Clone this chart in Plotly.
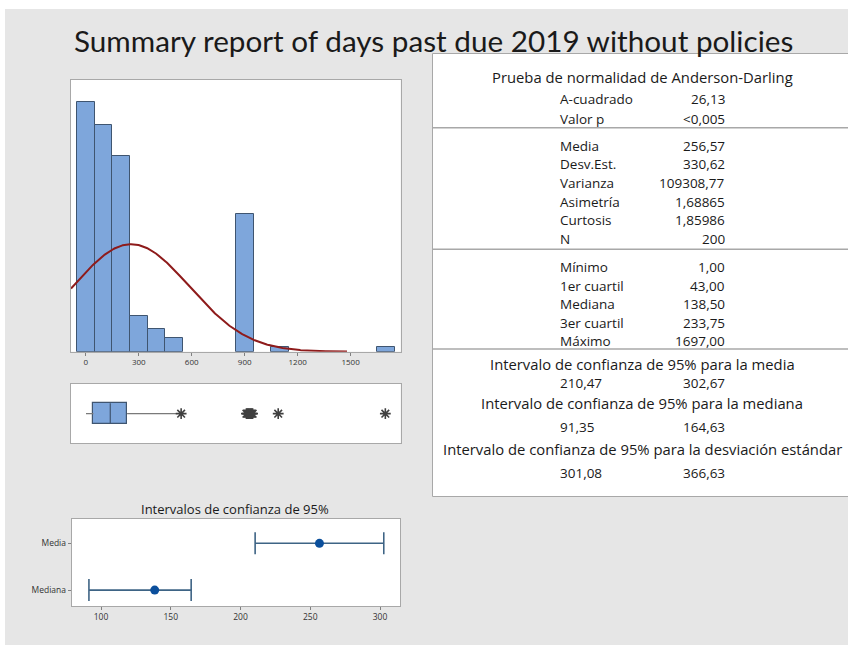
import numpy as np
import plotly.graph_objects as go

W, H = 848, 645
TITLE_FONT = "Lato"
FONT = "Open Sans"

# ---------------- data ----------------
bin_centers = [0, 100, 200, 300, 400, 500, 900, 1100, 1700]
bin_counts = [56, 51, 44, 8, 5, 3, 31, 1, 1]
bin_width = 100

n_obs = 200
mean_val = 256.57
sd_val = 330.62

q1_val = 43.00
median_val = 138.50
q3_val = 233.75
min_val = 1.00
whisker_hi = 515
outliers = [540, 910, 915, 920, 925, 930, 935, 940, 945, 1090, 1697]

ci_labels = ["Media", "Mediana"]
ci_centers = [256.57, 138.50]
ci_low = [210.47, 91.35]
ci_high = [302.67, 164.63]

hist_ticks = [0, 300, 600, 900, 1200, 1500]
ci_ticks = [100, 150, 200, 250, 300]

ad_rows = [("A-cuadrado", "26,13"), ("Valor p", "<0,005")]
moment_rows = [("Media", "256,57"), ("Desv.Est.", "330,62"), ("Varianza", "109308,77"),
               ("Asimetría", "1,68865"), ("Curtosis", "1,85986"), ("N", "200")]
quart_rows = [("Mínimo", "1,00"), ("1er cuartil", "43,00"), ("Mediana", "138,50"),
              ("3er cuartil", "233,75"), ("Máximo", "1697,00")]
ci_rows = [("Intervalo de confianza de 95% para la media", "210,47", "302,67"),
           ("Intervalo de confianza de 95% para la mediana", "91,35", "164,63"),
           ("Intervalo de confianza de 95% para la desviación estándar", "301,08", "366,63")]

# ---------------- helpers ----------------
def px(x):
    return x / W

def py(y):
    return 1 - y / H

BAR_FILL = "#7EA6DB"
BAR_LINE = "#3F5570"
FRAME = "#A8A8A8"
TXT = "#1A1A1A"

fig = go.Figure()

# Histogram
fig.add_trace(go.Bar(x=bin_centers, y=bin_counts, width=[bin_width] * len(bin_centers),
                     marker=dict(color=BAR_FILL, line=dict(color=BAR_LINE, width=1)),
                     xaxis="x", yaxis="y", showlegend=False, hoverinfo="skip"))
xc = np.linspace(-84, 1480, 300)
yc = n_obs * bin_width * np.exp(-0.5 * ((xc - mean_val) / sd_val) ** 2) / (sd_val * np.sqrt(2 * np.pi))
fig.add_trace(go.Scatter(x=xc, y=yc, mode="lines", line=dict(color="#8E1B1B", width=2),
                         xaxis="x", yaxis="y", showlegend=False, hoverinfo="skip"))

# Boxplot: whiskers, box (as a floating bar), median, outliers
fig.add_trace(go.Scatter(x=[min_val, q1_val], y=[0, 0], mode="lines",
                         line=dict(color="#7A7A7A", width=1.2), xaxis="x2", yaxis="y2",
                         showlegend=False, hoverinfo="skip"))
fig.add_trace(go.Scatter(x=[q3_val, whisker_hi], y=[0, 0], mode="lines",
                         line=dict(color="#7A7A7A", width=1.2), xaxis="x2", yaxis="y2",
                         showlegend=False, hoverinfo="skip"))
fig.add_trace(go.Bar(x=[q3_val - q1_val], base=[q1_val], y=[0], orientation="h", width=[0.7],
                     marker=dict(color=BAR_FILL, line=dict(color=BAR_LINE, width=1.2)),
                     xaxis="x2", yaxis="y2", showlegend=False, hoverinfo="skip"))
fig.add_trace(go.Scatter(x=[median_val, median_val], y=[-0.35, 0.35], mode="lines",
                         line=dict(color=BAR_LINE, width=1.2), xaxis="x2", yaxis="y2",
                         showlegend=False, hoverinfo="skip"))
fig.add_trace(go.Scatter(x=outliers, y=[0] * len(outliers), mode="markers",
                         marker=dict(symbol="asterisk-open", size=9, color="#404040",
                                     line=dict(color="#404040", width=1.6)),
                         xaxis="x2", yaxis="y2", showlegend=False, hoverinfo="skip"))

# CI plot
ci_y = [1, 0]
for i in range(2):
    fig.add_trace(go.Scatter(
        x=[ci_centers[i]], y=[ci_y[i]], mode="markers",
        marker=dict(color="#0B4F9C", size=9),
        error_x=dict(type="data", symmetric=False,
                     array=[ci_high[i] - ci_centers[i]],
                     arrayminus=[ci_centers[i] - ci_low[i]],
                     width=11, thickness=1.6, color="#3E6485"),
        xaxis="x3", yaxis="y3", showlegend=False, hoverinfo="skip"))

axis_frame = dict(showline=True, mirror=True, linecolor=FRAME, linewidth=1,
                  showgrid=False, zeroline=False)

layout = dict(
    width=W, height=H,
    margin=dict(l=0, r=0, t=0, b=0),
    paper_bgcolor="#E6E6E6", plot_bgcolor="white",
    font=dict(family=FONT, color=TXT),
    bargap=0,
    xaxis=dict(domain=[px(71), px(400.7)], range=[-84, 1784], tickvals=hist_ticks,
               ticks="outside", ticklen=3, tickcolor="#808080",
               tickfont=dict(size=8, color="#333333"), anchor="y", **axis_frame),
    yaxis=dict(domain=[py(351.7), py(80)], range=[0, 61.0], showticklabels=False,
               anchor="x", **axis_frame),
    xaxis2=dict(domain=[px(71), px(400.7)], range=[-84, 1784], showticklabels=False,
                anchor="y2", **axis_frame),
    yaxis2=dict(domain=[py(443.3), py(384)], range=[-1, 1], showticklabels=False,
                anchor="x2", **axis_frame),
    xaxis3=dict(domain=[px(71.7), px(400)], range=[79, 314.3], tickvals=ci_ticks,
                ticks="outside", ticklen=3, tickcolor="#808080",
                tickfont=dict(size=8.5, color="#333333"), anchor="y3", **axis_frame),
    yaxis3=dict(domain=[py(606), py(519)], range=[-0.34, 1.52], tickvals=ci_y,
                ticktext=ci_labels, ticks="outside", ticklen=3, tickcolor="#808080",
                tickfont=dict(size=8.5, color="#333333"), anchor="x3", **axis_frame),
)
fig.update_layout(**layout)

shapes = []
# white window margins
shapes.append(dict(type="rect", xref="paper", yref="paper", x0=0, x1=1, y0=py(9), y1=1,
                   fillcolor="white", line=dict(width=0)))
shapes.append(dict(type="rect", xref="paper", yref="paper", x0=0, x1=px(5), y0=0, y1=1,
                   fillcolor="white", line=dict(width=0)))
# table box
shapes.append(dict(type="rect", xref="paper", yref="paper", x0=px(432.5), x1=px(852),
                   y0=py(496.5), y1=py(53.5), fillcolor="white",
                   line=dict(color=FRAME, width=1)))
for ysep in [127.7, 249.3, 349]:
    shapes.append(dict(type="line", xref="paper", yref="paper", x0=px(432.5), x1=px(852),
                       y0=py(ysep), y1=py(ysep), line=dict(color=FRAME, width=1.5)))
fig.update_layout(shapes=shapes)

ann = []
def text(x, y, s, size, anchor="center", color=TXT, family=FONT):
    ann.append(dict(x=px(x), y=py(y), xref="paper", yref="paper", text=s, showarrow=False,
                    xanchor=anchor, yanchor="middle",
                    font=dict(size=size, color=color, family=family)))

text(433.5, 40, "Summary report of days past due 2019 without policies", 29.7, family=TITLE_FONT)
text(235, 509, "Intervalos de confianza de 95%", 13, family=FONT)

TS = 13.5
HS = 14.8
LX, VX = 558, 726.7
text(642, 76.7, "Prueba de normalidad de Anderson-Darling", HS)
for (lab, val), yy in zip(ad_rows, [99.3, 119.3]):
    text(LX, yy, lab, TS, "left"); text(VX, yy, val, TS, "right")
for (lab, val), yy in zip(moment_rows, [146, 164.3, 183.3, 201.7, 220, 239.3]):
    text(LX, yy, lab, TS, "left"); text(VX, yy, val, TS, "right")
for (lab, val), yy in zip(quart_rows, [267.3, 285.7, 304, 322.7, 340.7]):
    text(LX, yy, lab, TS, "left"); text(VX, yy, val, TS, "right")
for (lab, lo, hi), (yh, yv) in zip(ci_rows, [(363.5, 382.5), (402.7, 426.7), (449, 472.7)]):
    text(642, yh, lab, HS)
    text(LX, yv, lo, TS, "left"); text(VX, yv, hi, TS, "right")

fig.update_layout(annotations=ann)
fig.write_html("out.html")
